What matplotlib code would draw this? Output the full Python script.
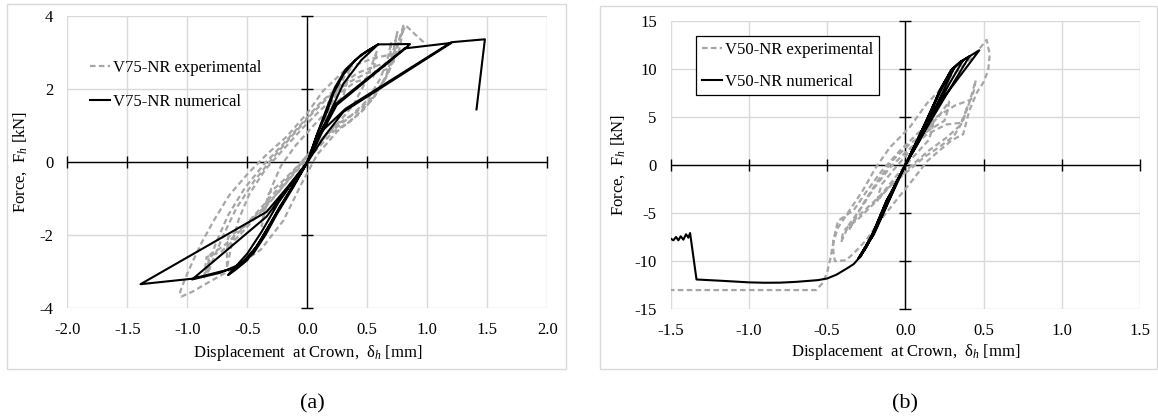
import numpy as np
import matplotlib.pyplot as plt
from matplotlib.patches import Rectangle

plt.rcParams['font.family'] = ['Liberation Serif', 'DejaVu Serif']
plt.rcParams['mathtext.fontset'] = 'custom'
plt.rcParams['mathtext.rm'] = 'Liberation Serif'
plt.rcParams['mathtext.it'] = 'Liberation Serif:italic'

# ---- panel (a) : V75-NR ----
a_exp_x = [0.00, 0.08, 0.16, 0.24, 0.31, 0.36, 0.33, 0.30, 0.18, 0.05, -0.10, -0.22, -0.30, -0.35, -0.38,
           -0.36, -0.32, -0.20, -0.05, 0.10, 0.25, 0.38, 0.47, 0.53, 0.58,
           0.56, 0.55, 0.40, 0.25, 0.10, -0.05, -0.20, -0.35, -0.48, -0.57, -0.63, -0.67,
           -0.67, -0.66, -0.52, -0.38, -0.25, -0.12, 0.05, 0.22, 0.35, 0.47, 0.58, 0.66, 0.71, 0.75,
           0.73, 0.72, 0.58, 0.42, 0.25, 0.10, -0.05, -0.20, -0.36, -0.52, -0.66, -0.76, -0.84, -0.86,
           -0.84, -0.72, -0.58, -0.44, -0.30, -0.15, 0.02, 0.18, 0.34, 0.50, 0.61, 0.67, 0.70,
           0.69, 0.67, 0.50, 0.35, 0.18, 0.03, -0.12, -0.28, -0.44, -0.59, -0.70, -0.79, -0.83,
           -0.82, -0.70, -0.55, -0.40, -0.25, -0.10, 0.06, 0.22, 0.40, 0.55, 0.67, 0.73, 0.77, 0.80,
           0.78, 0.76, 0.55, 0.33, 0.13, 0.00, -0.17, -0.34, -0.49, -0.65, -0.78, -0.88, -0.95, -1.02, -1.06, -1.05,
           -0.96, -0.84, -0.64, -0.39, -0.20, -0.05, 0.08, 0.25, 0.40, 0.55, 0.66, 0.72, 0.77, 0.82,
           0.90, 0.98]
a_exp_y = [0.00, 0.65, 1.30, 1.90, 2.35, 2.55, 2.20, 1.80, 1.45, 1.00, 0.45, -0.10, -0.70, -1.30, -1.75,
           -1.30, -0.85, -0.50, 0.00, 0.55, 1.05, 1.55, 2.10, 2.60, 3.05,
           2.70, 2.35, 2.20, 1.85, 1.40, 0.90, 0.35, -0.20, -0.85, -1.55, -2.25, -2.90,
           -2.50, -2.05, -1.75, -1.30, -0.85, -0.35, 0.25, 0.85, 1.10, 1.44, 1.90, 2.40, 2.95, 3.57,
           3.20, 2.75, 2.65, 2.45, 2.05, 1.60, 1.05, 0.50, -0.05, -0.70, -1.45, -2.20, -2.95, -3.15,
           -2.60, -2.45, -2.05, -1.55, -1.05, -0.45, 0.25, 0.80, 1.20, 1.70, 2.30, 2.85, 3.30,
           2.90, 2.55, 2.45, 2.20, 1.80, 1.30, 0.75, 0.15, -0.50, -1.25, -2.00, -2.70, -3.05,
           -2.55, -2.30, -1.85, -1.30, -0.75, -0.20, 0.43, 0.98, 1.35, 1.80, 2.40, 2.90, 3.40, 3.74,
           3.30, 3.00, 2.85, 2.58, 1.95, 1.35, 0.71, 0.21, -0.29, -0.90, -1.60, -2.20, -2.68, -3.20, -3.55, -3.68,
           -3.55, -3.32, -2.95, -2.40, -1.60, -0.60, 0.20, 0.85, 1.25, 1.75, 2.35, 2.90, 3.40, 3.75,
           3.50, 3.26]

a_num_x = [0.00, 0.08, 0.16, 0.22, 0.30, 0.40, 0.50, 0.59,
           0.45, 0.30, 0.18, 0.08, 0.00,
           -0.10, -0.23, -0.32, -0.39, -0.50, -0.60, -0.66,
           -0.50, -0.38, -0.24, -0.10, 0.00,
           0.09, 0.17, 0.23, 0.32, 0.45, 0.59, 0.856,
           0.81, 0.245, 0.12, 0.00,
           -0.11, -0.24, -0.34, -0.42, -0.55, -0.73, -0.96,
           -0.34, -0.15, 0.00,
           0.10, 0.245, 0.81, 1.20,
           0.30, 0.14, 0.00,
           -0.12, -0.25, -0.35, -0.45, -0.60, -0.73, -0.96, -1.39,
           -0.34, -0.17, 0.00,
           0.12, 0.32, 1.20, 1.48, 1.41]
a_num_y = [0.00, 0.75, 1.35, 1.90, 2.40, 2.80, 3.05, 3.23,
           2.80, 2.15, 1.30, 0.60, 0.00,
           -0.55, -1.22, -1.75, -2.13, -2.68, -2.95, -3.09,
           -2.50, -1.90, -1.10, -0.45, 0.00,
           0.85, 1.55, 2.05, 2.55, 2.95, 3.23, 3.24,
           3.10, 1.57, 0.80, 0.00,
           -0.60, -1.30, -1.85, -2.30, -2.78, -3.03, -3.21,
           -1.49, -0.65, 0.00,
           0.75, 1.62, 3.12, 3.27,
           1.38, 0.70, 0.00,
           -0.70, -1.40, -2.00, -2.50, -2.90, -3.00, -3.19, -3.34,
           -1.36, -0.70, 0.00,
           0.85, 1.47, 3.29, 3.37, 1.45]

# ---- panel (b) : V50-NR ----
b_exp_x = [0.00, 0.05, 0.12, 0.18, 0.17, 0.15, 0.06, -0.04, -0.12, -0.18,
           -0.17, -0.15, -0.08, 0.00, 0.08, 0.15, 0.22, 0.28,
           0.27, 0.25, 0.15, 0.03, -0.08, -0.17, -0.25, -0.31, -0.36,
           -0.34, -0.30, -0.20, -0.10, 0.02, 0.12, 0.22, 0.31, 0.37, 0.40,
           0.38, 0.36, 0.26, 0.14, 0.02, -0.10, -0.20, -0.28, -0.36, -0.41,
           -0.40, -0.38, -0.30, -0.20, -0.09, 0.03, 0.15, 0.26, 0.35, 0.41, 0.45,
           0.44, 0.42, 0.32, 0.20, 0.08, -0.04, -0.15, -0.25, -0.33, -0.43, -0.46, -0.46, -0.45,
           -0.38, -0.33, -0.25, -0.16, -0.05, 0.05, 0.14, 0.22, 0.30, 0.37, 0.41, 0.46, 0.50, 0.53, 0.54, 0.52,
           0.45, 0.35, 0.285, 0.22, 0.137, 0.03, -0.10, -0.19, -0.27, -0.36, -0.43, -0.46, -0.48, -0.50,
           -0.53, -0.57, -0.80, -1.10, -1.50]
b_exp_y = [0.0, 1.5, 3.2, 4.5, 3.6, 2.6, 1.0, -0.8, -2.4, -3.8,
           -3.0, -2.0, -0.6, 0.9, 2.4, 3.9, 5.2, 6.6,
           5.6, 4.6, 3.6, 2.2, 0.5, -1.5, -3.5, -5.2, -6.8,
           -6.0, -5.3, -3.8, -2.2, -0.6, 0.8, 1.9, 3.0, 4.6, 6.2,
           5.2, 4.4, 4.2, 3.2, 1.6, -0.3, -2.4, -4.4, -6.2, -8.0,
           -7.2, -6.6, -5.6, -4.0, -2.1, -0.2, 1.5, 2.8, 4.1, 6.5, 8.8,
           7.8, 6.8, 6.2, 5.0, 3.3, 1.4, -0.6, -2.8, -4.7, -5.8, -7.8, -9.0, -10.0,
           -9.9, -9.2, -7.8, -5.75, -3.5, -1.5, 0.4, 1.53, 2.6, 3.2, 5.7, 7.6, 8.6, 9.84, 11.5, 13.0,
           11.6, 10.0, 9.15, 7.76, 6.38, 3.95, 1.8, -0.3, -2.6, -4.8, -6.5, -8.0, -9.8, -11.2,
           -12.3, -13.0, -13.0, -13.0, -13.0]

b_num_x = [0.00, 0.07, 0.14, 0.21, 0.27, 0.31,
           0.24, 0.15, 0.07, 0.00, -0.06, -0.12, -0.17, -0.21, -0.26, -0.29,
           -0.22, -0.15, -0.08, 0.00, 0.07, 0.15, 0.22, 0.29, 0.34, 0.37,
           0.28, 0.18, 0.08, 0.00, -0.07, -0.13, -0.19, -0.24, -0.29,
           -0.21, -0.13, -0.06, 0.02, 0.09, 0.16, 0.23, 0.29, 0.35, 0.41,
           0.31, 0.20, 0.09, 0.00, -0.07, -0.14, -0.20, -0.25, -0.30,
           -0.20, -0.12, -0.05, 0.03, 0.10, 0.17, 0.24, 0.30, 0.35, 0.473,
           0.137, 0.07, 0.00, -0.06, -0.12, -0.205, -0.25, -0.29, -0.33, -0.375, -0.44, -0.50, -0.56, -0.63,
           -0.70, -0.80, -0.90, -1.00, -1.16, -1.335,
           -1.376, -1.387, -1.402, -1.419, -1.436, -1.451, -1.466, -1.483, -1.50]
b_num_y = [0.0, 2.3, 4.7, 7.2, 9.1, 10.0,
           7.6, 4.6, 2.0, 0.0, -1.9, -3.7, -5.6, -7.2, -8.6, -9.5,
           -7.6, -5.0, -2.6, 0.0, 2.2, 5.0, 7.8, 9.7, 10.5, 10.9,
           8.4, 5.3, 2.2, 0.0, -2.2, -4.2, -6.5, -8.2, -9.6,
           -7.4, -4.6, -2.0, 0.6, 3.0, 5.5, 8.0, 9.8, 10.7, 11.3,
           8.6, 5.6, 2.6, 0.0, -2.3, -4.6, -6.8, -8.4, -9.7,
           -7.2, -4.3, -1.8, 1.0, 3.4, 5.9, 8.3, 10.0, 10.7, 11.92,
           4.65, 2.4, 0.0, -2.0, -3.7, -7.13, -8.6, -9.56, -10.3, -10.77, -11.4, -11.8, -11.97, -12.06,
           -12.15, -12.23, -12.24, -12.2, -12.05, -11.9,
           -7.07, -7.55, -7.2, -7.76, -7.41, -7.83, -7.48, -7.83, -7.65]

a_xticks = [-2.0, -1.5, -1.0, -0.5, 0.0, 0.5, 1.0, 1.5, 2.0]
a_yticks = [-4, -2, 0, 2, 4]
b_xticks = [-1.5, -1.0, -0.5, 0.0, 0.5, 1.0, 1.5]
b_yticks = [-15, -10, -5, 0, 5, 10, 15]

W, H = 1158, 419
GREY = '#a6a6a6'
GRID = '#d9d9d9'

fig = plt.figure(figsize=(W / 100, H / 100), dpi=100)

# light outer frames around each chart
fig.add_artist(Rectangle((7 / W, 1 - 369 / H), 559 / W, 365 / H, transform=fig.transFigure,
                         fill=False, ec=GRID, lw=1))
fig.add_artist(Rectangle((600 / W, 1 - 369 / H), 557 / W, 363 / H, transform=fig.transFigure,
                         fill=False, ec=GRID, lw=1))

ax1 = fig.add_axes([67.3 / W, 1 - 308.3 / H, 480 / W, 292 / H])
ax2 = fig.add_axes([670.7 / W, 1 - 309.3 / H, 469.2 / W, 288.6 / H])


def style(ax, xt, yt):
    ax.set_xlim(xt[0], xt[-1])
    ax.set_ylim(yt[0], yt[-1])
    ax.set_xticks(xt)
    ax.set_yticks(yt)
    ax.set_xticklabels([f'{v:.1f}' for v in xt])
    ax.set_yticklabels([f'{v:d}' for v in yt])
    for s in ax.spines.values():
        s.set_visible(False)
    ax.grid(True, color=GRID, lw=1)
    ax.set_axisbelow(True)
    ax.tick_params(length=0, labelsize=12, pad=10)
    ax.axhline(0, color='black', lw=1, zorder=1.5)
    ax.axvline(0, color='black', lw=1, zorder=1.5)
    # cross tick marks on the zero axes
    ax.plot(xt, np.zeros(len(xt)), ls='none', marker='|', ms=8, mew=1, color='black', clip_on=False, zorder=1.5)
    ax.plot(np.zeros(len(yt)), yt, ls='none', marker='_', ms=8, mew=1, color='black', clip_on=False, zorder=1.5)
    ax.set_xlabel('Displacement  at Crown,  δ$_h$ [mm]', fontsize=12)
    ax.set_ylabel('Force,  F$_h$ [kN]', fontsize=12)


style(ax1, a_xticks, a_yticks)
style(ax2, b_xticks, b_yticks)

ax1.plot(a_exp_x, a_exp_y, color=GREY, lw=1.6, dashes=(2.5, 1.5), label='V75-NR experimental', zorder=2)
ax1.plot(a_num_x, a_num_y, color='black', lw=1.5, label='V75-NR numerical', zorder=3)
ax2.plot(b_exp_x, b_exp_y, color=GREY, lw=1.6, dashes=(2.5, 1.5), label='V50-NR experimental', zorder=2)
ax2.plot(b_num_x, b_num_y, color='black', lw=1.5, label='V50-NR numerical', zorder=3)

ax1.xaxis.set_label_coords(0.5, -0.12)
ax1.yaxis.set_label_coords(-0.08, 0.5)
ax2.xaxis.set_label_coords(0.5, -0.115)
ax2.yaxis.set_label_coords(-0.094, 0.5)

ax1.legend(loc='upper left', bbox_to_anchor=(90 / W, 1 - 60 / H), bbox_transform=fig.transFigure,
           frameon=False, fontsize=12, handlelength=1.2, handletextpad=0.2, labelspacing=1.05,
           borderpad=0, borderaxespad=0)
leg = ax2.legend(loc='upper left', bbox_to_anchor=(696 / W, 1 - 36 / H), bbox_transform=fig.transFigure,
                 fancybox=False, edgecolor='black', framealpha=1, fontsize=12, handlelength=1.2,
                 handletextpad=0.2, labelspacing=0.95, borderpad=0.35, borderaxespad=0)
leg.get_frame().set_linewidth(0.9)

fig.text(312 / W, 1 - 404 / H, '(a)', ha='center', va='center', fontsize=16)
fig.text(905 / W, 1 - 404 / H, '(b)', ha='center', va='center', fontsize=16)

fig.savefig('out.png', dpi=100)
